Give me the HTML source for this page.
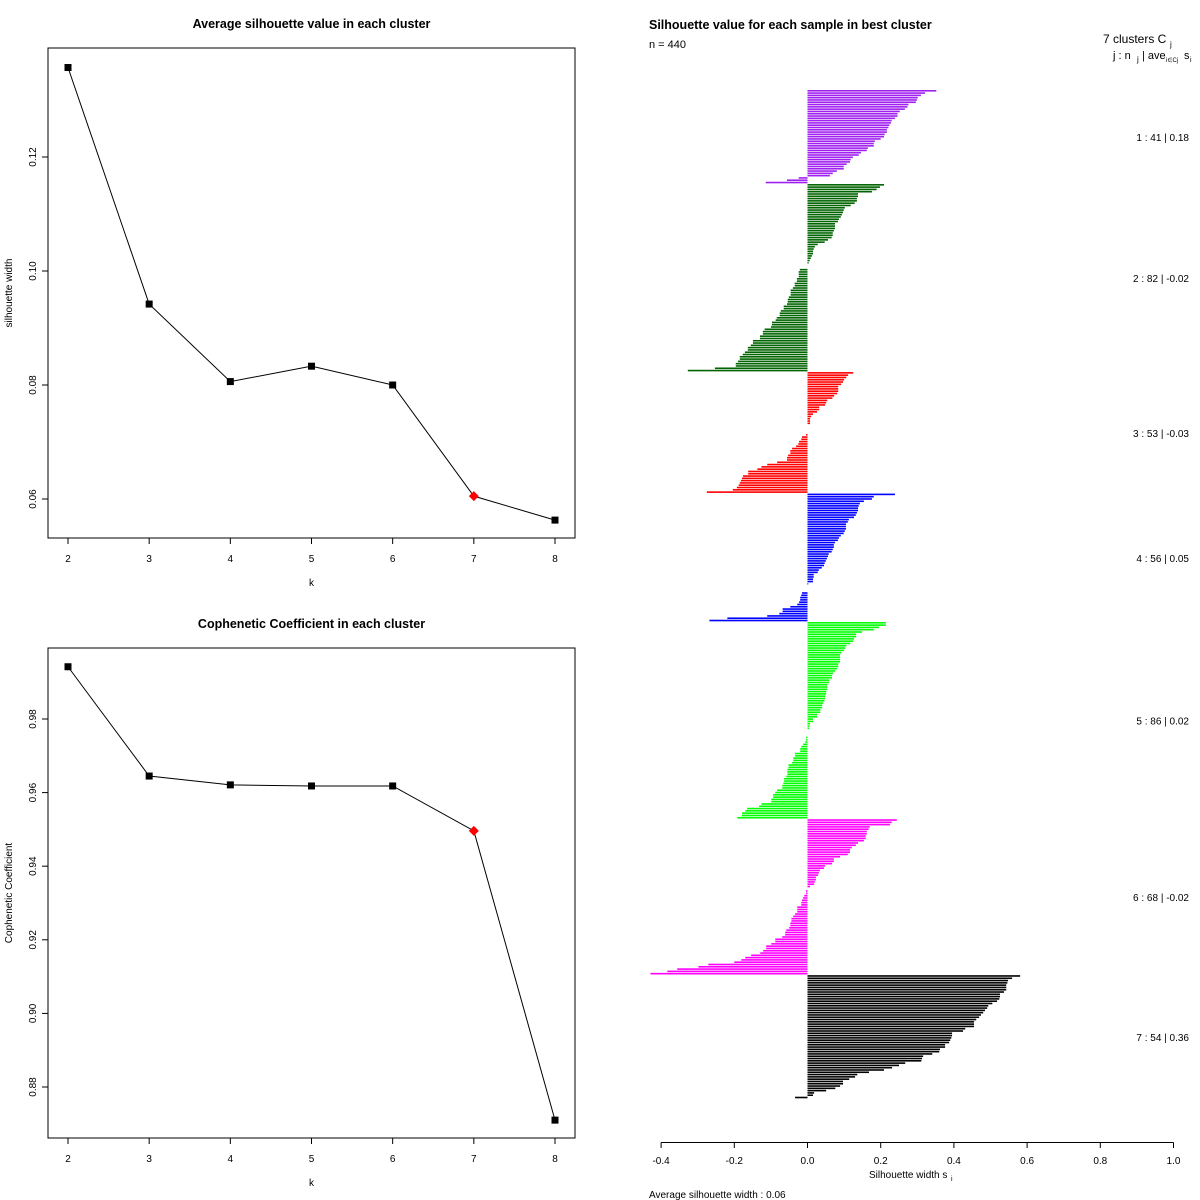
<!DOCTYPE html>
<html><head><meta charset="utf-8"><style>
html,body{margin:0;padding:0;background:#fff;}
svg{display:block;font-family:"Liberation Sans",sans-serif;}
</style></head><body>
<svg id="root" width="1200" height="1200" viewBox="0 0 1200 1200" xmlns="http://www.w3.org/2000/svg"></svg>
<script>
// ---------- data ----------
const kValues = [2,3,4,5,6,7,8];
const silAvg = [0.1357,0.0942,0.0806,0.0833,0.0800,0.0605,0.0563];
const copheneticVals = [0.9942,0.9645,0.9621,0.9618,0.9618,0.9496,0.8710];
const bestK = 7;
const silYTicks = [0.06,0.08,0.10,0.12];
const copYTicks = [0.88,0.90,0.92,0.94,0.96,0.98];
const silXTicks = [-0.4,-0.2,0.0,0.2,0.4,0.6,0.8,1.0];
const clusterSizes = [41,82,53,56,86,68,54];
const clusterAvg = ["0.18","-0.02","-0.03","0.05","0.02","-0.02","0.36"];
const clusterColors = ["#a020f0","#006400","#ff0000","#0000ff","#00ff00","#ff00ff","#000000"];
const c1 = [0.352,0.321,0.310,0.301,0.299,0.296,0.276,0.273,0.266,0.252,0.246,0.246,0.239,0.230,0.228,0.224,0.221,0.217,0.217,0.211,0.209,0.200,0.184,0.181,0.181,0.165,0.162,0.146,0.140,0.124,0.118,0.116,0.107,0.099,0.099,0.080,0.069,0.061,-0.024,-0.056,-0.114];
const c2 = [0.209,0.198,0.189,0.176,0.138,0.138,0.135,0.135,0.129,0.118,0.102,0.099,0.097,0.094,0.091,0.086,0.083,0.075,0.075,0.075,0.072,0.069,0.069,0.066,0.056,0.047,0.028,0.020,0.017,0.015,0.015,0.012,0.009,0.006,0.003,0,0,
-0.021,-0.024,-0.024,-0.024,-0.029,-0.029,-0.035,-0.035,-0.040,-0.046,-0.046,-0.046,-0.051,-0.054,-0.054,-0.056,-0.065,-0.065,-0.073,-0.076,-0.076,-0.084,-0.087,-0.097,-0.097,-0.100,-0.117,-0.122,-0.122,-0.130,-0.130,-0.149,-0.149,-0.155,-0.163,-0.163,-0.171,-0.177,-0.185,-0.185,-0.190,-0.196,-0.196,-0.253,-0.327];
const c3 = [0.125,0.111,0.106,0.100,0.097,0.092,0.084,0.084,0.084,0.081,0.073,0.068,0.054,0.051,0.048,0.032,0.032,0.026,0.015,0.010,0.007,0.007,0.007,0,0,0,0,
-0.004,-0.015,-0.017,-0.023,-0.025,-0.031,-0.042,-0.047,-0.047,-0.053,-0.056,-0.056,-0.083,-0.110,-0.126,-0.137,-0.162,-0.162,-0.176,-0.179,-0.182,-0.185,-0.188,-0.193,-0.204,-0.275];
const c4 = [0.239,0.181,0.176,0.154,0.143,0.140,0.138,0.138,0.135,0.132,0.127,0.113,0.110,0.105,0.105,0.105,0.102,0.099,0.091,0.086,0.083,0.075,0.072,0.072,0.069,0.066,0.058,0.056,0.053,0.050,0.047,0.045,0.039,0.031,0.028,0.017,0.017,0.015,0.015,0.002,0,0,0,
-0.015,-0.017,-0.020,-0.020,-0.023,-0.028,-0.047,-0.068,-0.068,-0.077,-0.110,-0.219,-0.268];
const c5 = [0.214,0.214,0.195,0.181,0.149,0.133,0.133,0.127,0.125,0.117,0.106,0.103,0.100,0.092,0.089,0.089,0.089,0.089,0.084,0.084,0.081,0.075,0.070,0.067,0.067,0.059,0.059,0.054,0.054,0.054,0.051,0.051,0.048,0.048,0.046,0.043,0.040,0.040,0.035,0.035,0.026,0.026,0.015,0.015,0.007,0.005,0.005,0,0,0,
-0.004,-0.004,-0.006,-0.012,-0.017,-0.020,-0.020,-0.034,-0.034,-0.039,-0.039,-0.042,-0.052,-0.052,-0.055,-0.055,-0.055,-0.058,-0.064,-0.064,-0.066,-0.069,-0.069,-0.083,-0.088,-0.094,-0.094,-0.099,-0.099,-0.126,-0.132,-0.165,-0.170,-0.179,-0.179,-0.192];
const c6 = [0.244,0.230,0.225,0.170,0.167,0.162,0.162,0.159,0.159,0.154,0.138,0.132,0.121,0.116,0.116,0.110,0.089,0.072,0.072,0.067,0.048,0.045,0.034,0.031,0.029,0.023,0.023,0.020,0.018,0.007,0,
-0.004,-0.004,-0.009,-0.012,-0.015,-0.017,-0.017,-0.028,-0.028,-0.028,-0.034,-0.039,-0.044,-0.044,-0.047,-0.047,-0.050,-0.058,-0.061,-0.061,-0.069,-0.088,-0.088,-0.099,-0.113,-0.113,-0.121,-0.129,-0.154,-0.170,-0.181,-0.200,-0.271,-0.298,-0.356,-0.383,-0.429];
const c7 = [0.581,0.559,0.548,0.546,0.543,0.543,0.543,0.537,0.526,0.526,0.524,0.518,0.505,0.494,0.491,0.485,0.480,0.474,0.469,0.461,0.455,0.455,0.455,0.431,0.425,0.395,0.395,0.393,0.390,0.387,0.376,0.376,0.362,0.360,0.341,0.316,0.313,0.311,0.267,0.250,0.231,0.209,0.168,0.136,0.130,0.114,0.097,0.097,0.089,0.076,0.051,0.018,0.015,-0.034];
const clusterValues = [c1,c2,c3,c4,c5,c6,c7];

// ---------- helpers ----------
const NS="http://www.w3.org/2000/svg";
const root=document.getElementById('root');
function mk(tag,attrs,parent){const e=document.createElementNS(NS,tag);for(const k in attrs)e.setAttribute(k,attrs[k]);(parent||root).appendChild(e);return e;}
function txt(s,x,y,size,opts,parent){const t=mk('text',Object.assign({x:x,y:y,'font-size':size,fill:'#000'},opts||{}),parent);t.textContent=s;return t;}

// ---------- line panel ----------
function linePanel(name,top,vals,yTicks,refV,refY,pxPerUnit,title,ylab){
  const L=48,R=575,T=top,B=top+490;
  const g=mk('g',{});
  
  
  const xS=k=>68+(k-2)*(555-68)/6;
  const yS=v=>refY+(refV-v)*pxPerUnit;
  const box=mk('rect',{x:L,y:T,width:R-L,height:B-T,fill:'none',stroke:'#000','stroke-width':1},g);
  
  
  const t=txt(title,311.5,T-20,12.5,{'text-anchor':'middle','font-weight':'bold'},g);
  
  
  kValues.forEach(k=>{
    const x=xS(k);
    mk('line',{x1:x,y1:B,x2:x,y2:B+6,stroke:'#000'},g);
    const tl=txt(String(k),x,B+24,10,{'text-anchor':'middle'},g);
    
    
  });
  yTicks.forEach(v=>{
    const y=yS(v);
    mk('line',{x1:L,y1:y,x2:L-6,y2:y,stroke:'#000'},g);
    const tl=txt(v.toFixed(2),36,y,10,{'text-anchor':'middle',transform:`rotate(-90 36 ${y})`},g);
    
    
  });
  const xl=txt('k',311.5,B+48,10,{'text-anchor':'middle'},g);
  
  
  const yc=(T+B)/2;
  const yl=txt(ylab,12,yc,10,{'text-anchor':'middle',transform:`rotate(-90 12 ${yc})`},g);
  
  
  const pts=kValues.map((k,i)=>xS(k)+','+yS(vals[i])).join(' ');
  const pl=mk('polyline',{points:pts,fill:'none',stroke:'#000','stroke-width':1},g);
  
  
  kValues.forEach((k,i)=>{
    const x=xS(k),y=yS(vals[i]);
    let m;
    if(k===bestK){
      m=mk('polygon',{points:`${x},${y-5} ${x+5},${y} ${x},${y+5} ${x-5},${y}`,fill:'#ff0000'},g);
    } else {
      m=mk('rect',{x:x-3.5,y:y-3.5,width:7,height:7,fill:'#000'},g);
    }
    
    
  });
}
linePanel('silhouette-by-k-chart',48,silAvg,silYTicks,0.12,157,5700,'Average silhouette value in each cluster','silhouette width');
linePanel('cophenetic-by-k-chart',648,copheneticVals,copYTicks,0.98,719,3680,'Cophenetic Coefficient in each cluster','Cophenetic Coefficient');

// ---------- silhouette bar plot ----------
const sg=mk('g',{});


const sx=v=>807.5+v*366;
const pitch=(1099-90)/440;
let st=txt('Silhouette value for each sample in best cluster',649,29,12.5,{'font-weight':'bold'},sg);


let nn=txt('n = 440',649,48,11,{},sg);


let lg1=txt('7 clusters  C',1103,43,12,{},sg);


txt('j',1170,47,8,{},sg);
let lg2=txt('j :  n',1113,59,11,{},sg);


txt('j',1137,62,8,{},sg);
txt('| ave',1142,59,11,{},sg);
txt('i∈Cj',1166,62,6,{},sg);
txt('s',1184,59,11,{},sg);
txt('i',1190,62,7,{},sg);
let idx=0;
clusterValues.forEach((arr,ci)=>{
  const start=idx;
  arr.forEach(v=>{
    const y=90+idx*pitch;
    const x0=Math.min(sx(0),sx(v)), w=Math.abs(sx(v)-sx(0));
    const b=mk('rect',{x:x0,y:y,width:Math.max(w,0),height:1.6,fill:clusterColors[ci]},sg);
    
    
    idx++;
  });
  const cy=90+(start+idx)/2*pitch;
  const lab=txt(`${ci+1} :  ${clusterSizes[ci]}  |  ${clusterAvg[ci]}`,1189,cy+4,10,{'text-anchor':'end'},sg);
  
  
});
mk('line',{x1:sx(-0.4),y1:1142.5,x2:sx(1.0),y2:1142.5,stroke:'#000'},sg);
silXTicks.forEach(v=>{
  const x=sx(v);
  mk('line',{x1:x,y1:1142.5,x2:x,y2:1148,stroke:'#000'},sg);
  const tl=txt(v.toFixed(1),x,1164,10,{'text-anchor':'middle'},sg);
  
  
});
let sxl=txt('Silhouette width s',869,1178,10,{},sg);


txt('i',951,1181,7,{},sg);
let avg=txt('Average silhouette width :  0.06',649,1198,10,{},sg);


</script>
</body></html>
